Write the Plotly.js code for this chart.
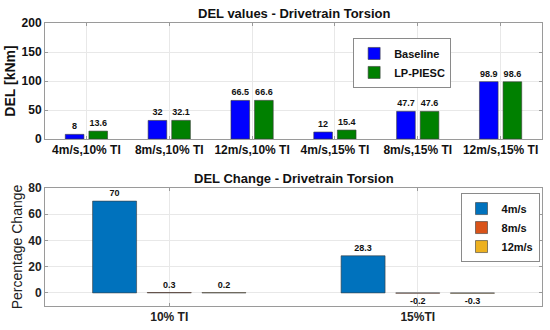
<!DOCTYPE html>
<html>
<head>
<meta charset="utf-8">
<script src="https://cdn.plot.ly/plotly-3.0.1.min.js"></script>
<style>html,body{margin:0;padding:0;background:#fff;}#chart{width:550px;height:330px;}</style>
</head>
<body>
<div id="chart"></div>
<script>
// Top chart data
const topCategories = ["4m/s,10% TI", "8m/s,10% TI", "12m/s,10% TI", "4m/s,15% TI", "8m/s,15% TI", "12m/s,15% TI"];
const baseline = [8, 32, 66.5, 12, 47.7, 98.9];
const lpPiesc = [13.6, 32.1, 66.6, 15.4, 47.6, 98.6];

// Bottom chart data
const tiCategories = ["10% TI", "15%TI"];
const change4 = [70, 28.3];
const change8 = [0.3, -0.2];
const change12 = [0.2, -0.3];

const F = "Liberation Sans, Arial, Helvetica, sans-serif";
const edge = {color: "#3a3a3a", width: 0.6};
const lblFont = {family: F, size: 9, color: "#111", weight: "bold"};

function barTrace(x, y, name, color, width, offset, xa, ya, leg) {
  return {
    type: "bar", x: x, y: y, name: name,
    text: y.map(v => String(v)), textposition: "outside",
    textfont: lblFont, constraintext: "none", cliponaxis: false,
    marker: {color: color, line: edge},
    width: width, offset: offset,
    xaxis: xa, yaxis: ya, legend: leg, hoverinfo: "x+y"
  };
}

const data = [
  barTrace(topCategories, baseline, "Baseline", "#0000FF", 0.225, -0.255, "x", "y", "legend"),
  barTrace(topCategories, lpPiesc, "LP-PIESC", "#008000", 0.225, 0.03, "x", "y", "legend"),
  barTrace(tiCategories, change4, "4m/s", "#0072BD", 0.177, -0.3085, "x2", "y2", "legend2"),
  barTrace(tiCategories, change8, "8m/s", "#D95319", 0.177, -0.0885, "x2", "y2", "legend2"),
  barTrace(tiCategories, change12, "12m/s", "#EDB120", 0.177, 0.1315, "x2", "y2", "legend2")
];

const axCommon = {
  showline: true, linecolor: "#9a9a9a", linewidth: 1, mirror: "ticks",
  ticks: "inside", ticklen: 3, tickcolor: "#9a9a9a",
  showgrid: true, gridcolor: "#e8e8e8", zeroline: false
};

const layout = {
  width: 550, height: 330,
  margin: {l: 45, r: 8, t: 0, b: 0},
  paper_bgcolor: "#fff", plot_bgcolor: "#fff",
  barmode: "overlay",
  showlegend: true,
  font: {family: F, color: "#000"},
  xaxis: Object.assign({}, axCommon, {
    anchor: "y", domain: [0, 1], range: [-0.5, 5.5],
    tickfont: {family: F, size: 12, weight: "bold", color: "#111"}
  }),
  yaxis: Object.assign({}, axCommon, {
    anchor: "x", domain: [0.5788, 0.9303], range: [0, 200],
    tickvals: [0, 50, 100, 150, 200],
    tickfont: {family: F, size: 12, weight: "bold", color: "#111"},
    title: {text: "DEL [kNm]", font: {family: F, size: 14, weight: "bold", color: "#111"}, standoff: 2}
  }),
  xaxis2: Object.assign({}, axCommon, {
    anchor: "y2", domain: [0, 1], range: [-0.5, 1.5],
    tickfont: {family: F, size: 12, weight: "bold", color: "#222"}
  }),
  yaxis2: Object.assign({}, axCommon, {
    anchor: "x2", domain: [0.0727, 0.4303], range: [-10, 80],
    tickvals: [0, 20, 40, 60, 80],
    tickfont: {family: F, size: 12, weight: "bold", color: "#222"},
    title: {text: "Percentage Change", font: {family: F, size: 14, color: "#222"}, standoff: 2}
  }),
  legend: {
    x: 0.62, y: 0.885, xanchor: "left", yanchor: "top",
    bgcolor: "#fff", bordercolor: "#8a8a8a", borderwidth: 1,
    font: {family: F, size: 11, weight: "bold", color: "#111"},
    tracegroupgap: 0, itemwidth: 30
  },
  legend2: {
    x: 0.995, y: 0.415, xanchor: "right", yanchor: "top",
    bgcolor: "#fff", bordercolor: "#8a8a8a", borderwidth: 1,
    font: {family: F, size: 11, weight: "bold", color: "#111"},
    tracegroupgap: 0, itemwidth: 30
  },
  annotations: [
    {text: "DEL values - Drivetrain Torsion", xref: "paper", yref: "paper", x: 0.5, y: 0.9576,
     xanchor: "center", yanchor: "middle", showarrow: false,
     font: {family: F, size: 13, weight: "bold", color: "#111"}},
    {text: "DEL Change - Drivetrain Torsion", xref: "paper", yref: "paper", x: 0.5, y: 0.4576,
     xanchor: "center", yanchor: "middle", showarrow: false,
     font: {family: F, size: 13, weight: "bold", color: "#111"}}
  ]
};

Plotly.newPlot("chart", data, layout, {displayModeBar: false, staticPlot: true});
</script>
</body>
</html>
